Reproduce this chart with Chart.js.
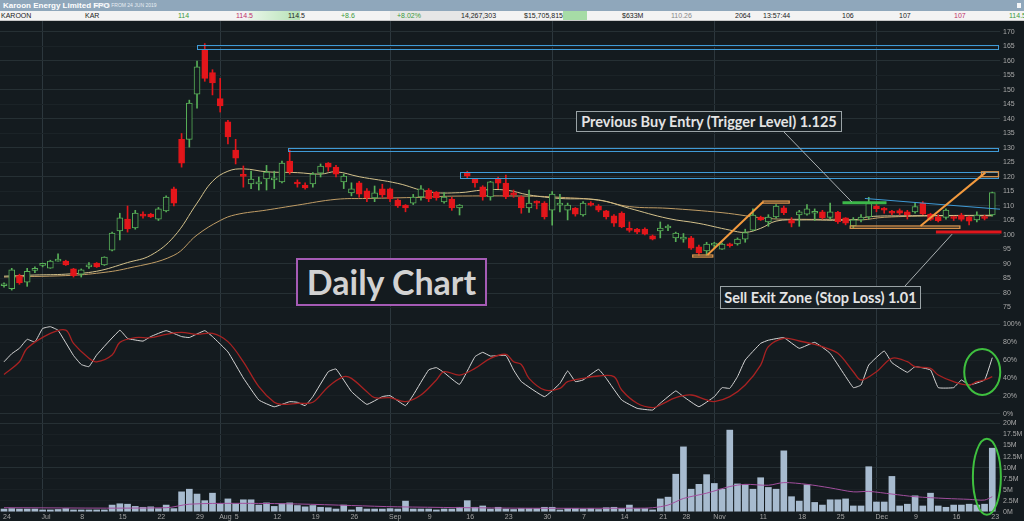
<!DOCTYPE html>
<html>
<head>
<meta charset="utf-8">
<script src="https://cdn.jsdelivr.net/npm/chart.js@4.4.0/dist/chart.umd.min.js"></script>
<style>
  html, body { margin: 0; padding: 0; background: #141b1f; width: 1024px; height: 521px; overflow: hidden; font-family: "Liberation Sans", Arial, sans-serif; }
  #title { position: absolute; left: 0; top: 0; width: 1024px; height: 11px; background: #8fa7bb; color: #fff; }
  #title b { position: absolute; left: 3px; top: 0; font-size: 8px; line-height: 11px; }
  #title i { position: absolute; left: 95px; top: 0; font-size: 5px; line-height: 11px; font-style: normal; color: #e8eef3; }
  #title u { position: absolute; left: 1017px; top: 3px; width: 4px; height: 5px; background: #f4f6f8; }
  #quote { position: absolute; left: 0; top: 11px; width: 1024px; height: 9px; background: #f3f3f3; border-bottom: 1px solid #c8c8c8; font-size: 7px; line-height: 9px; color: #222; }
  #quote span { position: absolute; top: 0; white-space: nowrap; }
  #quote .bg { height: 9px; }
  #quote .g { color: #3c9a3c; }
  #quote .r { color: #c0306a; }
  #quote .m { color: #888; }
  #wrap { position: absolute; left: 0; top: 20px; width: 1024px; height: 501px; }
  .note { position: absolute; box-sizing: border-box; text-align: center; font-family: Lato, "Open Sans", sans-serif; font-weight: bold; color: #e4e4e4; white-space: nowrap; }
</style>
</head>
<body>
<div id="title"><b>Karoon Energy Limited FPO</b><i>DAILY, FROM 24 JUN 2019</i><u></u></div>
<div id="quote">
  <span class="bg" style="left:248px;width:52px;background:linear-gradient(90deg,#eaf6ea,#b5e2b5)"></span>
  <span class="bg" style="left:390px;width:95px;background:#e6e6e6"></span>
  <span class="bg" style="left:563px;width:24px;background:#a6dca6"></span>
  <span style="left:1px">KAROON</span>
  <span style="left:85px">KAR</span>
  <span class="g" style="left:178px">114</span>
  <span class="r" style="left:236px">114.5</span>
  <span style="left:288px">114.5</span>
  <span class="g" style="left:341px">+8.6</span>
  <span class="g" style="left:397px">+8.02%</span>
  <span style="left:461px">14,267,303</span>
  <span style="left:524px">$15,705,815</span>
  <span style="left:622px">$633M</span>
  <span class="m" style="left:671px">110.26</span>
  <span style="left:735px">2064</span>
  <span style="left:763px">13:57:44</span>
  <span style="left:842px">106</span>
  <span style="left:899px">107</span>
  <span class="r" style="left:954px">107</span>
  <span class="g" style="left:1009px">114.5</span>
</div>
<div id="wrap"><canvas id="c" width="1024" height="501"></canvas></div>
<div class="note" style="left:296px;top:258px;width:191px;height:48px;border:2px solid #a55bb5;background:#141b1f;font-size:34px;line-height:43px;color:#d2d2d2">Daily Chart</div>
<div class="note" style="left:576px;top:111px;width:266px;height:21px;border:1px solid #9aa3a6;background:#182024;font-size:14.5px;line-height:19px">Previous Buy Entry (Trigger Level) 1.125</div>
<div class="note" style="left:720px;top:286px;width:201px;height:23px;border:1px solid #9aa3a6;background:#182024;font-size:14.5px;line-height:21px">Sell Exit Zone (Stop Loss) 1.01</div>
<script>
// daily bars, Jun 24 - Dec 23 2019 (index 0..128)
const open = [82.5,81.5,86,83.7,87.8,89.5,88.6,91,91,88.3,86.5,89,90.3,89.7,94.8,101.4,105.5,102.4,107.2,107.2,
  105.5,108.3,115.9,133,133,148.6,164,156,147,139,129.3,120.7,117.6,117.6,119.3,119,118.3,125.5,118,117.2,
  117.6,121.3,124.8,123.4,118.3,114.5,118,115.2,112.8,115.9,115.9,112,110.3,111,113.1,115.5,114.8,111.4,112.4,109.3,
  121.4,119.3,116.6,113.1,119.3,117.9,114.5,113.1,109.3,111.4,111,108.6,110.3,108.6,109.3,106.9,111,110,108.3,106.6,
  107.6,102,102,102,99.7,101.4,102.4,99,98.6,99,95.9,94.5,96.5,95.1,96.9,96.9,98.6,101.7,106.2,104.5,
  106.2,109.4,105.2,106.9,107.2,107.5,108,106.1,107.8,105.9,103.1,105.2,106.2,110,109.3,108,108.4,108,108,111,
  107.2,106.3,106.1,106.3,106.9,106.3,105.2,106.3,106.9];
const high = [83.5,88.5,86.5,88.5,89,90.3,91.3,93.5,91.3,88.5,88.3,90.5,90.5,92.5,101,107.5,110,108.5,108,107.5,
  109.5,113.5,116.5,135,146.5,160,166,157,154,139.5,133,123.8,122,120,124,122,125.5,129.3,119,118,
  121.5,124.5,125,124,121,118,118.5,116,116.9,117.5,116.2,112.5,110.5,114,117,116,115,114.6,113,110.5,
  122,119.5,117,118.5,120,120.7,115.5,113.5,115.5,111.8,111.5,115,114,111,109.5,111.5,111.5,110.5,108.5,107,
  108,104.5,102.3,102.5,100,104.5,103.5,101,100.5,99.5,96.5,97.5,97.5,97.2,97.2,99,102,109,106.5,107,
  110.5,110,106,108.5,110.5,109,108.5,111,108.2,106,106,107,113,110.5,109.5,108.5,109,108.5,111,111.5,
  107.5,107,109,106.5,107.5,106.5,108,106.8,114.8];
const low = [82,81,83,82.3,87,89,88.5,91,89.5,85.5,85.5,88.5,88.8,89.5,94.5,98.3,101,102,105.8,106,
  105,108,110,123.4,130.3,143.7,153,148.3,142.4,131.4,124.5,116.5,116,115.5,115.5,116,118,121,116.5,115.8,
  116.5,120,122,120,116,113.5,113,111.5,111.5,113,111.5,109.5,108,110.5,112,111.5,112,111,108.5,106.9,
  119.5,116.5,112,112,116,112.5,113,107.5,107.8,109,105.5,103.4,108,105.2,106.5,106.5,110,108,105.5,103,
  102.5,101,100.5,100,98.3,99,101.5,97.7,97.5,95,93,93,95.5,95,95.8,96.5,97.5,101.5,105,103,
  105.8,107,102.8,103,106.8,105,105.5,105.5,104,103.5,102.5,104.5,105.5,108,107.5,107,107,105.5,107.5,107,
  105,104.5,105.5,105,104.8,103.5,104.5,105.2,106.5];
const close = [83,88,83.5,87.5,88.3,89.8,91,91.3,89.7,86,88,89.3,89,92.4,100.7,105.9,102.1,107.6,106.5,106.2,
  109,113.1,111,124.8,145.5,158,154,152.4,144.5,133.8,126.5,120.2,119.3,118.3,121.7,119.5,124.8,121.7,117.6,116.2,
  121,123.8,123.4,121,120.3,115.9,114.1,112.8,114.5,113.8,112.4,110,109.3,113.1,115.9,112.4,112.8,113.1,109.3,110.3,
  120.3,118,113.1,118.3,117.9,113.1,113.8,109.3,111,111,106.2,114.1,111,110.3,107.2,111,110.3,108.6,106.2,104.1,
  102.8,101.6,101,100.3,98.6,102.4,102.8,100.7,99.3,95.5,93.8,96.9,97,96.9,96.3,98.6,100.8,106.9,105.2,106.2,
  110,107.7,104.1,108,109,108,106,108,104.6,104.1,105.2,106.2,111,109,108.6,107.5,107.5,106.9,109.8,107.2,
  105.4,104.9,108.6,105.7,105.4,104.8,106.9,105.7,114.6];
const volume = [0.6,0.7,0.6,0.6,0.6,0.4,0.4,0.5,0.7,0.4,0.4,0.4,0.4,0.4,1.5,1.8,1.7,1.2,1.0,1.1,
  0.7,1.5,0.7,4.5,5.1,4.0,2.5,4.2,1.8,2.9,1.8,2.7,2.7,1.5,2.0,1.2,1.8,2.0,1.4,1.1,
  1.4,1.0,0.9,0.6,1.5,0.4,1.0,0.6,0.6,0.6,0.7,0.6,2.4,0.6,0.6,0.6,0.4,0.6,0.6,1.0,
  2.5,1.0,1.3,0.6,1.0,0.6,0.5,0.7,0.7,0.7,1.0,1.0,0.4,0.7,0.7,0.6,0.7,0.5,0.9,1.0,
  0.7,1.5,0.7,0.7,0.4,2.9,3.3,8.5,14.7,5.1,6.2,8.4,6.4,5.1,18.5,6.3,6.1,5.1,7.7,5.5,
  5.1,13.8,3.4,2.4,6.1,2.1,1.5,2.7,2.7,2.9,1.3,1.3,10.2,2.2,2.2,8.0,1.3,1.7,3.6,1.3,
  4.2,1.3,1.0,1.5,1.5,1.7,1.5,1.7,14.4];

// moving averages read at sample bars
const maFastIdx = [0,4,8,12,16,19,22,25,27,29,31,34,38,41,43,46,51,55,59,62,65,68,72,77,81,86,90,94,96,98,100,103,110,112,116,128];
const maFast = [85.8,86.2,86.5,87.5,90.5,93,99.4,111,118.5,122,122.8,121.8,121.5,121,121.8,120.1,117.8,114.9,114.6,115.5,115.5,113.8,112.6,112.1,109.2,105.7,104,101.7,100.9,102.3,104.8,105.2,105.2,106.3,106.6,106.8];
const maSlowIdx = [0,8,12,16,22,25,28,30,34,38,43,47,54,58,68,72,77,81,86,93,99,104,108,111,114,121,128];
const maSlow = [85.5,86,86.8,88.5,93,100,105,107,108.6,110.3,112.3,112.6,113,113.4,113.4,113,112,109.8,109.2,107.7,105.7,105.4,105.4,105.2,106.1,106.6,106.6];

// stochastic %K (white) and %D (red)
const kIdx = [0,1,2,3,4,5,6,7,9,10,11,12,15,16,18,19,21,23,24,26,27,29,31,33,35,37,38,39,40,42,43,45,47,49,50,52,53,55,56,57,59,61,62,63,65,66,67,70,72,73,74,75,77,78,80,82,84,85,87,88,90,92,93,94,95,96,98,99,101,103,105,107,110,111,112,114,115,117,118,120,121,123,124,125,127,128];
const kVal = [58,67,73,83,80,95,97,93,65,55,52.6,65.6,93,84,81,86,92.6,86,85,92.6,86,69,40,15.6,8,13.7,13,9.3,19.3,47,50,25,10.7,19.3,20.4,9.3,21,49,51.5,46,33,63.7,68.5,64.4,65,48.9,36,19.3,34,47.8,36,37.8,49.6,39.6,15.6,6.3,4.4,12,25.6,19.3,8.1,19.3,29.3,28.5,41.5,60,78.5,82,84.8,73,79.6,67.4,29.3,32.2,54.4,70,57,46.3,52.6,48.9,29.3,29.3,37.8,32.2,37.8,62.6];
const dIdx = [0,2,3,6,8,9,11,12,14,15,17,19,21,23,25,27,29,31,33,35,36,38,40,42,44,45,47,48,50,52,54,56,57,59,61,63,65,66,67,68,70,72,73,75,77,79,80,82,84,85,87,89,91,92,94,96,98,99,101,103,105,106,108,110,111,113,115,117,118,120,121,123,125,126,127,128];
const dVal = [44,58,73,89.6,93.3,78.5,62,58,65.6,79.6,84.8,84.8,88.5,90.7,88.5,89.6,80.4,58,30.4,13,10.7,11.9,13,30.4,41.5,39.6,24.8,18.1,18.1,13.7,21.1,37.8,47,43.3,50.7,61.9,66.3,58.1,55,39.6,26.7,28.5,35.9,39.6,42.2,41.5,26.7,11.9,7,10,18.1,21.1,15.6,13.7,19.3,32.2,54.4,74.8,84.1,81.1,77.4,74.8,67.4,47,37.8,47,61.9,58.1,52.6,50.7,43.3,35.9,32.2,35.9,37.8,41.5];

// volume moving average
const vmaIdx = [0,21,24,30,38,45,51,67,82,84,86,88,91,94,96,99,101,104,107,110,112,115,118,122,125,127,128];
const vma = [0.9,0.9,1.7,1.9,1.75,1.4,1.1,0.8,0.8,0.9,1.5,3.0,4.2,5.7,6.2,6.0,6.6,6.2,5.4,4.5,4.6,4.0,3.4,3.0,2.8,2.65,3.4];

// axis labels
const tickIdx = [0,5,10,15,20,25,28,30,35,40,45,50,55,60,65,70,71,75,80,85,88,92,98,103,108,113,118,123,128];
const tickText = ['24','Jul','8','15','22','29','Aug','5','12','19','26','Sep','9','16','23','30','','7','14','21','28','Nov','11','18','25','Dec','9','16','23'];
const monthIdx = [5,28,50,71,92,113];
const priceTicks = [75,80,85,90,95,100,105,110,115,120,125,130,135,140,145,150,155,160,165,170];
const stochTicks = [0,20,40,60,80,100];
const volTicks = [0,2.5,5,7.5,10,12.5,15,17.5,20];

// drawn levels (bar index, price)
const levelBoxes = [[25,165.6,164.2],[36.8,130.0,129.0],[59,121.8,119.9]];
const orangeRays = [[91.1,93.1,98.3,111.4],[118.7,103.1,127.1,121.5]];
const orangeBoxes = [[89.2,93.1,91.8,92.4],[98.3,111.7,101.7,111.0],[109.6,103.1,123.8,102.3],[126.6,121.8,128.8,120.1]];
const buyLevel = [108.6,114.3,111.1];
const stopLevel = [120.7,129.2,101.0];
const trendLine = [111.5,112.6,129,108.9];

const up = close.map((c, i) => c >= open[i]);
const bars = close.map((c, i) => i);
const GREEN = '#58b058', RED = '#e3161b', BG = '#141b1f';
const tickFont = { family: '"Liberation Sans", Arial, sans-serif', size: 7 };

function noPad(s) {
  s.paddingLeft = 0; s.paddingRight = 0; s.paddingTop = 0; s.paddingBottom = 0;
}

const notes = {
  id: 'notes',
  afterDatasetsDraw(chart) {
    const ctx = chart.ctx, a = chart.chartArea;
    const X = v => chart.scales.x.getPixelForValue(v);
    const Y = v => chart.scales.y.getPixelForValue(v);
    ctx.save();
    ctx.strokeStyle = '#3f9ad6';
    ctx.lineWidth = 1;
    levelBoxes.forEach(([i, hi, lo]) => {
      ctx.strokeRect(Math.round(X(i)) + 0.5, Math.round(Y(hi)) + 0.5, a.right - Math.round(X(i)) - 2, Math.round(Y(lo) - Y(hi)));
    });
    ctx.beginPath();
    ctx.moveTo(X(trendLine[0]), Y(trendLine[1]));
    ctx.lineTo(X(trendLine[2]), Y(trendLine[3]));
    ctx.stroke();
    ctx.strokeStyle = '#d8934c';
    ctx.lineWidth = 1.3;
    orangeBoxes.forEach(([i0, p0, i1, p1]) => {
      ctx.strokeRect(X(i0), Y(p0), X(i1) - X(i0), Y(p1) - Y(p0));
    });
    ctx.strokeStyle = '#f39a3e';
    ctx.lineWidth = 2;
    orangeRays.forEach(([i0, p0, i1, p1]) => {
      ctx.beginPath();
      ctx.moveTo(X(i0), Y(p0));
      ctx.lineTo(X(i1), Y(p1));
      ctx.stroke();
    });
    ctx.lineWidth = 3;
    ctx.strokeStyle = '#3cb84a';
    ctx.beginPath();
    ctx.moveTo(X(buyLevel[0]), Y(buyLevel[2]));
    ctx.lineTo(X(buyLevel[1]), Y(buyLevel[2]));
    ctx.stroke();
    ctx.strokeStyle = '#e0161c';
    ctx.beginPath();
    ctx.moveTo(X(stopLevel[0]), Y(stopLevel[2]));
    ctx.lineTo(Math.min(X(stopLevel[1]), a.right + 2), Y(stopLevel[2]));
    ctx.stroke();
    // connectors from the text boxes
    ctx.strokeStyle = '#aab0b2';
    ctx.lineWidth = 1;
    ctx.beginPath();
    ctx.moveTo(784, 112);
    ctx.lineTo(X(109.8), Y(111.4));
    ctx.moveTo(905, 266);
    ctx.lineTo(X(122.8), Y(100.3));
    ctx.stroke();
    // highlight ellipses
    ctx.strokeStyle = '#3fc03f';
    ctx.lineWidth = 2;
    ctx.beginPath();
    ctx.ellipse(X(126.7), chart.scales.ys.getPixelForValue(46.7), 18, 23, 0, 0, Math.PI * 2);
    ctx.stroke();
    ctx.beginPath();
    ctx.ellipse(X(127.3), chart.scales.yv.getPixelForValue(7.9), 14, 38, 0, 0, Math.PI * 2);
    ctx.stroke();
    ctx.restore();
  },
  // date labels, left-aligned on their bar like the source chart
  afterDraw(chart) {
    const ctx = chart.ctx, a = chart.chartArea, xs = chart.scales.x;
    ctx.save();
    ctx.fillStyle = '#a3a3a3';
    ctx.font = '7px "Liberation Sans", Arial, sans-serif';
    ctx.textAlign = 'left';
    ctx.textBaseline = 'top';
    tickIdx.forEach((v, k) => {
      ctx.fillText(tickText[k], Math.max(1, xs.getPixelForValue(v) - 1), a.bottom + 2);
    });
    ctx.restore();
  }
};

new Chart(document.getElementById('c'), {
  type: 'bar',
  data: {
    datasets: [
      { type: 'bar', label: 'body', yAxisID: 'y', order: 1, grouped: false,
        data: bars.map(i => ({ x: i, y: [open[i], close[i]] })),
        backgroundColor: bars.map(i => up[i] ? BG : RED),
        borderColor: bars.map(i => up[i] ? GREEN : RED),
        borderWidth: 1, borderSkipped: false, barThickness: 6, minBarLength: 2 },
      { type: 'bar', label: 'wick', yAxisID: 'y', order: 2, grouped: false,
        data: bars.map(i => ({ x: i, y: [low[i], high[i]] })),
        backgroundColor: bars.map(i => up[i] ? GREEN : RED),
        borderWidth: 0, barThickness: 1 },
      { type: 'line', label: 'MA fast', yAxisID: 'y', order: 3,
        data: maFastIdx.map((x, k) => ({ x, y: maFast[k] })),
        borderColor: '#d4c28c', borderWidth: 1, pointRadius: 0, tension: 0.4 },
      { type: 'line', label: 'MA slow', yAxisID: 'y', order: 3,
        data: maSlowIdx.map((x, k) => ({ x, y: maSlow[k] })),
        borderColor: '#c09d66', borderWidth: 1, pointRadius: 0, tension: 0.4 },
      { type: 'line', label: '%D', yAxisID: 'ys', order: 4,
        data: dIdx.map((x, k) => ({ x, y: dVal[k] })),
        borderColor: '#a82222', borderWidth: 1.3, pointRadius: 0, tension: 0.35 },
      { type: 'line', label: '%K', yAxisID: 'ys', order: 4,
        data: kIdx.map((x, k) => ({ x, y: kVal[k] })),
        borderColor: '#d6d6d6', borderWidth: 1, pointRadius: 0, tension: 0.1 },
      { type: 'bar', label: 'volume', yAxisID: 'yv', order: 6, grouped: false,
        data: bars.map(i => ({ x: i, y: volume[i] })),
        backgroundColor: '#a7bbcf', borderWidth: 0, barThickness: 6 },
      { type: 'line', label: 'vol MA', yAxisID: 'yv', order: 5,
        data: vmaIdx.map((x, k) => ({ x, y: vma[k] })),
        borderColor: '#a24f9e', borderWidth: 1, pointRadius: 0, tension: 0.3 }
    ]
  },
  options: {
    responsive: false,
    animation: false,
    layout: { padding: { top: 1, left: 0, right: 0, bottom: 0 } },
    plugins: { legend: { display: false }, tooltip: { enabled: false } },
    scales: {
      x: {
        type: 'linear', position: 'bottom', min: -0.52, max: 129.0, offset: false,
        afterBuildTicks: s => { s.ticks = tickIdx.map(v => ({ value: v })); },
        afterFit: s => { s.height = 9; noPad(s); },
        ticks: { display: false },
        grid: { offset: false, color: c => (c.tick && monthIdx.includes(c.tick.value)) ? '#2c373d' : 'rgba(0,0,0,0)', drawTicks: false },
        border: { display: false }
      },
      y: {
        type: 'linear', position: 'right', stack: 'panels', stackWeight: 297, min: 71.38, max: 173.79,
        afterBuildTicks: s => { s.ticks = priceTicks.map(v => ({ value: v })); },
        afterFit: s => { s.width = 24; noPad(s); },
        ticks: { autoSkip: false, padding: 3, color: '#a8a8a8', font: tickFont, callback: v => String(v) },
        grid: { color: c => (c.tick && c.tick.value % 10 === 0) ? '#263034' : '#1b2327', drawTicks: false },
        border: { display: false }
      },
      ys: {
        type: 'linear', position: 'right', stack: 'panels', stackWeight: 101, min: -5.56, max: 106.67,
        afterBuildTicks: s => { s.ticks = stochTicks.map(v => ({ value: v })); },
        afterFit: s => { s.width = 24; noPad(s); },
        ticks: { autoSkip: false, padding: 3, color: '#a8a8a8', font: tickFont, callback: v => v + '%' },
        grid: { color: c => (c.tick && (c.tick.value === 0 || c.tick.value === 100)) ? '#263034' : '#1a2125', drawTicks: false },
        border: { display: false }
      },
      yv: {
        type: 'linear', position: 'right', stack: 'panels', stackWeight: 93, min: -0.07, max: 21.02,
        afterBuildTicks: s => { s.ticks = volTicks.map(v => ({ value: v })); },
        afterFit: s => { s.width = 24; noPad(s); },
        ticks: { autoSkip: false, padding: 3, color: '#a8a8a8', font: tickFont, callback: v => v + 'M' },
        grid: { color: c => (c.tick && (c.tick.value === 20 || c.tick.value === 10)) ? '#263034' : '#1a2125', drawTicks: false },
        border: { display: false }
      }
    }
  },
  plugins: [notes]
});
</script>
</body>
</html>
